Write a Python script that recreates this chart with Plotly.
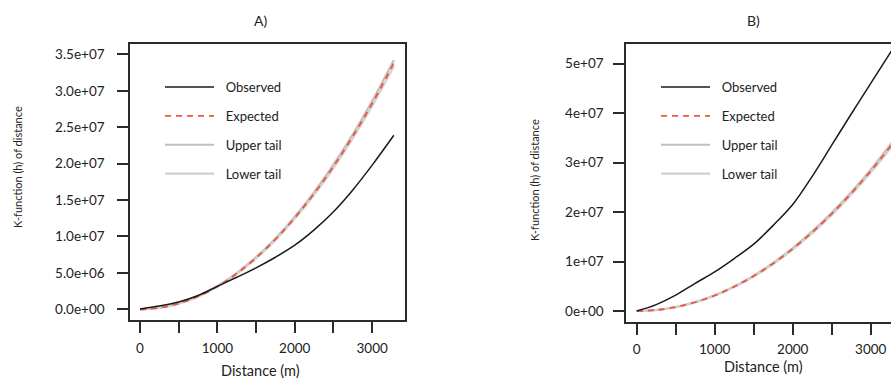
import plotly.graph_objects as go

# ---------------- data ----------------
distance = [0, 250, 500, 750, 1000, 1250, 1500, 1750, 2000, 2250, 2500, 2750, 3000, 3280]

# Panel A
observed_a = [0.05e6, 0.45e6, 1.0e6, 1.9e6, 3.15e6, 4.4e6, 5.7e6, 7.15e6, 8.8e6, 10.9e6, 13.4e6, 16.4e6, 19.8e6, 23.9e6]
expected_a = [0, 0.2e6, 0.79e6, 1.77e6, 3.14e6, 4.91e6, 7.07e6, 9.62e6, 12.57e6, 15.9e6, 19.63e6, 23.76e6, 28.27e6, 33.8e6]
upper_a = [0, 0.21e6, 0.81e6, 1.8e6, 3.19e6, 4.98e6, 7.16e6, 9.74e6, 12.72e6, 16.09e6, 19.86e6, 24.03e6, 28.6e6, 34.25e6]
lower_a = [0, 0.19e6, 0.77e6, 1.74e6, 3.09e6, 4.84e6, 6.98e6, 9.5e6, 12.42e6, 15.71e6, 19.4e6, 23.49e6, 27.94e6, 33.35e6]

# Panel B
observed_b = [0, 1.3e6, 3.2e6, 5.6e6, 7.9e6, 10.6e6, 13.5e6, 17.3e6, 21.5e6, 27.2e6, 33.5e6, 39.8e6, 46.0e6, 52.9e6]
expected_b = [0, 0.2e6, 0.79e6, 1.77e6, 3.14e6, 4.91e6, 7.07e6, 9.62e6, 12.57e6, 15.9e6, 19.63e6, 23.76e6, 28.27e6, 33.8e6]
upper_b = [0, 0.21e6, 0.81e6, 1.8e6, 3.19e6, 4.98e6, 7.16e6, 9.74e6, 12.72e6, 16.08e6, 19.85e6, 24.01e6, 28.57e6, 34.2e6]
lower_b = [0, 0.19e6, 0.77e6, 1.74e6, 3.09e6, 4.84e6, 6.98e6, 9.5e6, 12.42e6, 15.72e6, 19.41e6, 23.51e6, 27.97e6, 33.4e6]

x_tickvals = [0, 500, 1000, 1500, 2000, 2500, 3000]
x_ticktext = ["0", "", "1000", "", "2000", "", "3000"]
ya_tickvals = [0, 5e6, 1e7, 1.5e7, 2e7, 2.5e7, 3e7, 3.5e7]
ya_ticktext = ["0.0e+00", "5.0e+06", "1.0e+07", "1.5e+07", "2.0e+07", "2.5e+07", "3.0e+07", "3.5e+07"]
yb_tickvals = [0, 1e7, 2e7, 3e7, 4e7, 5e7]
yb_ticktext = ["0e+00", "1e+07", "2e+07", "3e+07", "4e+07", "5e+07"]

names = ["Observed", "Expected", "Upper tail", "Lower tail"]
panel_titles = ["A)", "B)"]
x_title = "Distance (m)"
y_title = "K-function (h) of distance"

# ---------------- style ----------------
FONT = "Lato, 'Liberation Sans', sans-serif"
INK = "#2b2b2b"
RED = "#e8593f"
UPPER_C = "#c8bcba"
LOWER_C = "#d3d0d0"
PAD = "\u00a0\u00a0"

fig = go.Figure()

def add_panel(obs, exp, up, lo, xa, ya, legend):
    fig.add_trace(go.Scatter(x=distance, y=up, mode="lines", name=PAD + names[2],
                             line=dict(color=UPPER_C, width=2.2, shape="spline"),
                             xaxis=xa, yaxis=ya, legend=legend, legendgroup=legend + "u", legendrank=3))
    fig.add_trace(go.Scatter(x=distance, y=lo, mode="lines", name=PAD + names[3],
                             line=dict(color=LOWER_C, width=2.2, shape="spline"),
                             xaxis=xa, yaxis=ya, legend=legend, legendgroup=legend + "l", legendrank=4))
    fig.add_trace(go.Scatter(x=distance, y=exp, mode="lines", name=PAD + names[1],
                             line=dict(color=RED, width=1.8, dash="6px,5px", shape="spline"),
                             xaxis=xa, yaxis=ya, legend=legend, legendgroup=legend + "e", legendrank=2))
    fig.add_trace(go.Scatter(x=distance, y=obs, mode="lines", name=PAD + names[0],
                             line=dict(color="#1a1a1a", width=1.5, shape="spline"),
                             xaxis=xa, yaxis=ya, legend=legend, legendgroup=legend + "o", legendrank=1))

add_panel(observed_a, expected_a, upper_a, lower_a, "x", "y", "legend")
add_panel(observed_b, expected_b, upper_b, lower_b, "x2", "y2", "legend2")

W, H = 891, 385

def px_x(p):
    return p / W

def px_y(p):
    return 1 - p / H

axis_common = dict(showline=True, linecolor=INK, linewidth=1.5, ticks="outside", ticklen=11,
                   tickwidth=1.5, tickcolor=INK, showgrid=False, zeroline=False,
                   tickfont=dict(family=FONT, size=13.5, color="#222"))

legend_common = dict(xanchor="left", yanchor="top", bgcolor="rgba(0,0,0,0)",
                     font=dict(family=FONT, size=13, color="#222"), tracegroupgap=9,
                     itemwidth=49, traceorder="grouped")

fig.update_layout(
    width=W, height=H,
    margin=dict(l=0, r=0, t=0, b=0),
    paper_bgcolor="white", plot_bgcolor="white",
    font=dict(family=FONT, color="#222"),
    xaxis=dict(domain=[px_x(130), px_x(405)], range=[-129, 3424], anchor="y", mirror=True,
               tickvals=x_tickvals, ticktext=x_ticktext, ticklabelstandoff=4, **axis_common),
    yaxis=dict(domain=[px_y(320), px_y(44)], range=[-1.47e6, 3.644e7], anchor="x", mirror=True,
               tickvals=ya_tickvals, ticktext=ya_ticktext, ticklabelstandoff=10, **axis_common),
    xaxis2=dict(domain=[px_x(626), 1.0], range=[-137, 3260], anchor="y2", mirror=True,
                tickvals=x_tickvals, ticktext=x_ticktext, ticklabelstandoff=3, **axis_common),
    yaxis2=dict(domain=[px_y(322), px_y(44)], range=[-2.22e6, 5.394e7], anchor="x2", mirror=False,
                tickvals=yb_tickvals, ticktext=yb_ticktext, ticklabelstandoff=7, **axis_common),
    legend=dict(x=px_x(160), y=px_y(72), **legend_common),
    legend2=dict(x=px_x(656), y=px_y(72), **legend_common),
)

def ann(text, x, y, size, angle=0):
    return dict(text=text, x=px_x(x), y=px_y(y), xref="paper", yref="paper",
                xanchor="center", yanchor="middle", textangle=angle, showarrow=False,
                font=dict(family=FONT, size=size, color="#222"))

fig.update_layout(annotations=[
    ann(panel_titles[0], 260, 20, 14),
    ann(panel_titles[1], 753, 20, 14),
    ann(x_title, 260, 370, 14.5),
    ann(x_title, 763, 366, 14.5),
    ann(y_title, 17, 167, 11, -90),
    ann(y_title, 535, 180, 11, -90),
])

fig.write_html("out.html", config={"displayModeBar": False},
               post_script="document.body.style.margin='0';")
